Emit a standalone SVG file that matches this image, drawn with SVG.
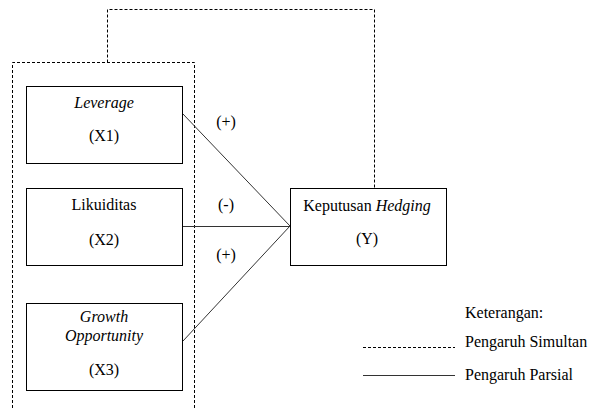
<svg xmlns="http://www.w3.org/2000/svg" width="591" height="408" viewBox="0 0 591 408">
<style>
text{font-family:"Liberation Serif","Times New Roman","DejaVu Serif",serif;font-size:16px;fill:#000}
.c{text-anchor:middle}
.i{font-style:italic}
.box{fill:#fff;stroke:#000;stroke-width:1}
.dash{fill:none;stroke:#000;stroke-width:1;stroke-dasharray:3,2}
.solid{fill:none;stroke:#333;stroke-width:1}
</style>
<rect width="591" height="408" fill="#fff"/>
<g id="connectors">
<path class="dash" d="M12.5,408 V62.5 H194.5 V408"/>
<path class="dash" d="M107.5,62.5 V9.5 H374.5 V188"/>
<line class="solid" x1="183" y1="114" x2="290" y2="226"/>
<line class="solid" x1="183" y1="226.5" x2="290" y2="226.5"/>
<line class="solid" x1="183" y1="341" x2="290" y2="226"/>
<text class="c" x="226" y="127">(+)</text>
<text class="c" x="226" y="210">(-)</text>
<text class="c" x="226" y="260">(+)</text>
</g>
<g id="x1">
<rect class="box" x="26.5" y="86.5" width="156" height="77"/>
<text class="c i" x="104" y="108">Leverage</text>
<text class="c" x="104" y="141">(X1)</text>
</g>
<g id="x2">
<rect class="box" x="26.5" y="188.5" width="156" height="77"/>
<text class="c" x="104" y="210">Likuiditas</text>
<text class="c" x="104" y="245">(X2)</text>
</g>
<g id="x3">
<rect class="box" x="26.5" y="303.5" width="156" height="87"/>
<text class="c i" x="104" y="322">Growth</text>
<text class="c i" x="104" y="341">Opportunity</text>
<text class="c" x="104" y="375">(X3)</text>
</g>
<g id="y">
<rect class="box" x="290.5" y="188.5" width="156" height="77"/>
<text class="c" x="367" y="211">Keputusan <tspan class="i">Hedging</tspan></text>
<text class="c" x="367" y="244">(Y)</text>
</g>
<g id="legend">
<text x="465" y="318">Keterangan:</text>
<line class="dash" x1="363" y1="347.5" x2="455" y2="347.5"/>
<text x="465" y="347">Pengaruh Simultan</text>
<line class="solid" x1="363" y1="375.5" x2="455" y2="375.5"/>
<text x="465" y="380">Pengaruh Parsial</text>
</g>
</svg>
